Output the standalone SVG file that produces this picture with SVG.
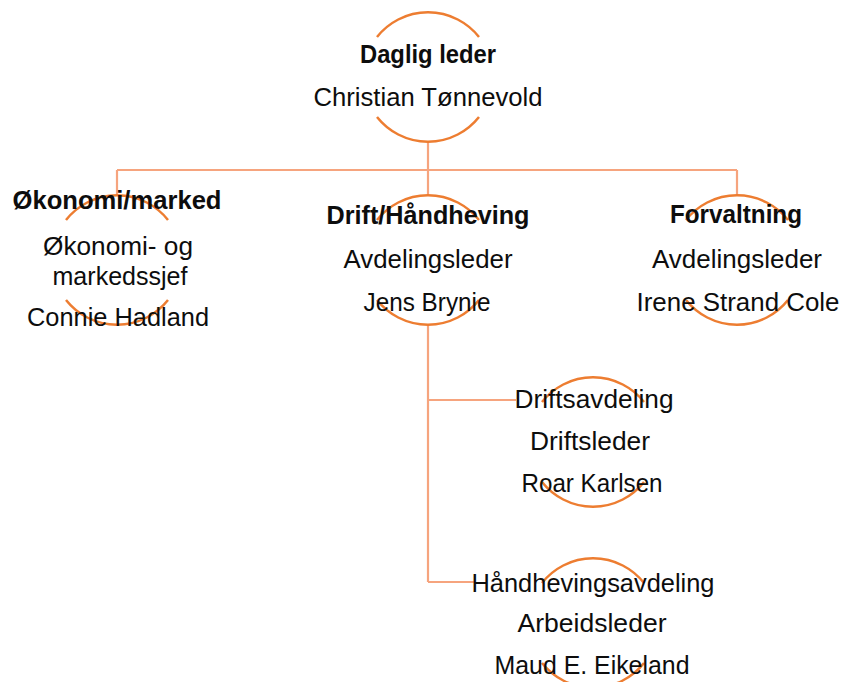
<svg xmlns="http://www.w3.org/2000/svg" width="841" height="682" viewBox="0 0 841 682">
<style>
.arc{fill:none;stroke:#ED7D31;stroke-width:2.5}
.con{fill:none;stroke:#F6A47E;stroke-width:2.2}
text{font-family:"Liberation Sans",Arial,sans-serif;font-size:26px;fill:#0d0d0d;text-anchor:middle}
.b{font-weight:bold}
</style>
<rect width="841" height="682" fill="#fff"/>
<g id="connectors">
<path class="con" d="M428 142V170M117 170H737M117 170V195M428 170V195M737 170V195"/>
<path class="con" d="M428 325V582M428 400H516M428 582H474"/>
</g>
<g id="node-daglig-leder">
<path class="arc" d="M377 37A65 65 0 0 1 479 37M377 117A65 65 0 0 0 479 117"/>
<text class="b" x="428" y="63" textLength="136" lengthAdjust="spacingAndGlyphs">Daglig leder</text>
<text x="428" y="106" textLength="229" lengthAdjust="spacingAndGlyphs">Christian Tønnevold</text>
</g>
<g id="node-okonomi">
<path class="arc" d="M66 220A65 65 0 0 1 168 220M66 300A65 65 0 0 0 168 300"/>
<text class="b" x="117" y="209" textLength="209" lengthAdjust="spacingAndGlyphs">Økonomi/marked</text>
<text x="118" y="255" textLength="150" lengthAdjust="spacingAndGlyphs">Økonomi- og</text>
<text x="120" y="285" textLength="135" lengthAdjust="spacingAndGlyphs">markedssjef</text>
<text x="118" y="326" textLength="182" lengthAdjust="spacingAndGlyphs">Connie Hadland</text>
</g>
<g id="node-drift">
<path class="arc" d="M377 220A65 65 0 0 1 479 220M377 300A65 65 0 0 0 479 300"/>
<text class="b" x="428" y="224" textLength="203" lengthAdjust="spacingAndGlyphs">Drift/Håndheving</text>
<text x="428" y="268" textLength="169" lengthAdjust="spacingAndGlyphs">Avdelingsleder</text>
<text x="427" y="311" textLength="127" lengthAdjust="spacingAndGlyphs">Jens Brynie</text>
</g>
<g id="node-forvaltning">
<path class="arc" d="M686 220A65 65 0 0 1 788 220M686 300A65 65 0 0 0 788 300"/>
<text class="b" x="736" y="223" textLength="132" lengthAdjust="spacingAndGlyphs">Forvaltning</text>
<text x="737" y="268" textLength="170" lengthAdjust="spacingAndGlyphs">Avdelingsleder</text>
<text x="738" y="311" textLength="203" lengthAdjust="spacingAndGlyphs">Irene  Strand Cole</text>
</g>
<g id="node-driftsavdeling">
<path class="arc" d="M542 402A65 65 0 0 1 644 402M542 482A65 65 0 0 0 644 482"/>
<text x="594" y="408" textLength="159" lengthAdjust="spacingAndGlyphs">Driftsavdeling</text>
<text x="590" y="450" textLength="120" lengthAdjust="spacingAndGlyphs">Driftsleder</text>
<text x="592" y="492" textLength="141" lengthAdjust="spacingAndGlyphs">Roar Karlsen</text>
</g>
<g id="node-handhevingsavdeling">
<path class="arc" d="M542 583A65 65 0 0 1 644 583M542 663A65 65 0 0 0 644 663"/>
<text x="593" y="592" textLength="243" lengthAdjust="spacingAndGlyphs">Håndhevingsavdeling</text>
<text x="592" y="632" textLength="149" lengthAdjust="spacingAndGlyphs">Arbeidsleder</text>
<text x="592" y="674" textLength="195" lengthAdjust="spacingAndGlyphs">Maud E. Eikeland</text>
</g>
</svg>
